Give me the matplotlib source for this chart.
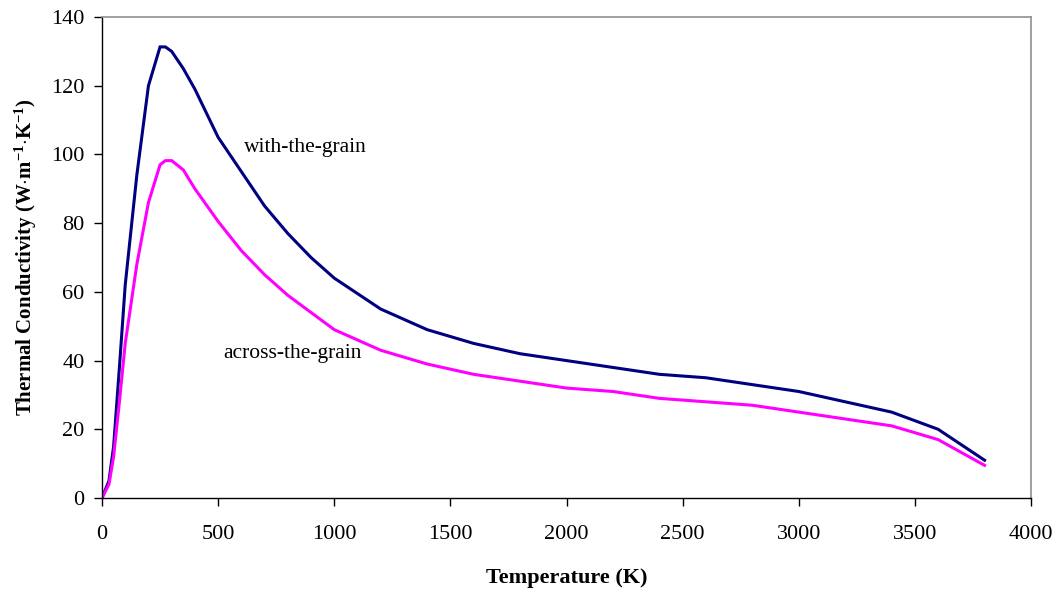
import matplotlib
matplotlib.use("Agg")
import matplotlib.pyplot as plt

temperature = [0, 30, 50, 75, 100, 150, 200, 250, 273, 300, 350, 400, 500, 600, 700, 800,
               900, 1000, 1200, 1400, 1600, 1800, 2000, 2200, 2400, 2600, 2800, 3000,
               3200, 3400, 3600, 3800]
with_grain = [0, 5, 15, 38, 62, 94, 120, 131.3, 131.3, 130, 125, 119, 105, 95, 85, 77,
              70, 64, 55, 49, 45, 42, 40, 38, 36, 35, 33, 31, 28, 25, 20, 11]
across_grain = [0, 4, 12, 28, 45, 68, 86, 97, 98.2, 98.2, 95.5, 90, 80.5, 72, 65, 59,
                54, 49, 43, 39, 36, 34, 32, 31, 29, 28, 27, 25, 23, 21, 17, 9.5]

label_with = "with-the-grain"
label_across = "across-the-grain"
xlabel = "Temperature (K)"
ylabel = r"Thermal Conductivity (W$\cdot$m$^{\mathbf{-1}}$$\cdot$K$^{\mathbf{-1}}$)"

plt.rcParams['font.family'] = ['Liberation Serif', 'DejaVu Serif']
plt.rcParams['mathtext.fontset'] = 'custom'
plt.rcParams['mathtext.rm'] = 'Liberation Serif'
plt.rcParams['mathtext.bf'] = 'Liberation Serif:bold'
plt.rcParams['mathtext.default'] = 'bf'

fig = plt.figure(figsize=(10.58, 5.89), dpi=100)
ax = fig.add_axes([0.0964, 0.1545, 0.8781, 0.8166])

ax.plot(temperature, with_grain, color='#000080', lw=2.2, solid_joinstyle='miter')
ax.plot(temperature, across_grain, color='#FF00FF', lw=2.2, solid_joinstyle='miter')

ax.text(874, 100.8, label_with, fontsize=15.5, ha='center', va='baseline')
ax.text(822, 40.7, label_across, fontsize=15.5, ha='center', va='baseline')

ax.set_xlim(0, 4000)
ax.set_ylim(0, 140)
ax.set_xticks(range(0, 4001, 500))
ax.set_yticks(range(0, 141, 20))
ax.tick_params(direction='out', length=5.5, width=1, labelsize=16, colors='black')
ax.tick_params(axis='x', pad=14)
ax.tick_params(axis='y', pad=7)

for s in ['top', 'right']:
    ax.spines[s].set_color('#909090')
    ax.spines[s].set_linewidth(1.2)
for s in ['left', 'bottom']:
    ax.spines[s].set_color('black')
    ax.spines[s].set_linewidth(1.0)

ax.set_xlabel(xlabel, fontsize=16, fontweight='bold', labelpad=17)
ax.set_ylabel(ylabel, fontsize=15, fontweight='bold', labelpad=9)

fig.savefig("out.png", dpi=100)
